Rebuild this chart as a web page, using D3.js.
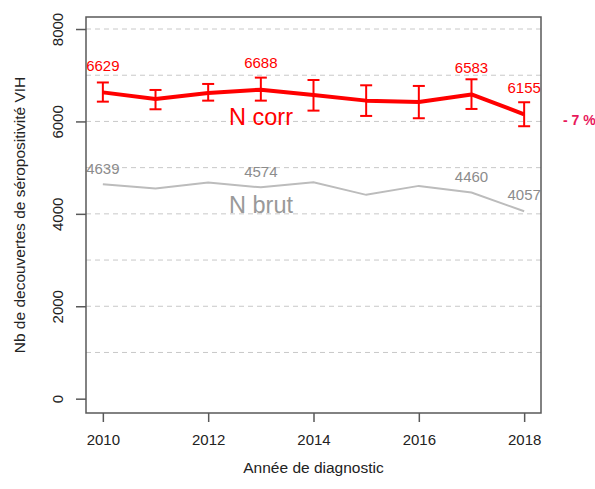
<!DOCTYPE html>
<html>
<head>
<meta charset="utf-8">
<script src="https://cdn.jsdelivr.net/npm/d3@7"></script>
<style>
  body { margin: 0; background: #fff; }
  svg { font-family: "Liberation Sans", Arial, sans-serif; }
</style>
</head>
<body>
<svg id="chart" width="595" height="489"></svg>
<script>
// data
const years = [2010, 2011, 2012, 2013, 2014, 2015, 2016, 2017, 2018]
const nCorr = [6629, 6486, 6616, 6688, 6573, 6450, 6421, 6583, 6155]
const ciLow = [6428, 6263, 6450, 6450, 6234, 6119, 6069, 6270, 5896]
const ciHigh = [6843, 6681, 6811, 6948, 6897, 6782, 6768, 6912, 6415]
const nBrut = [4639, 4547, 4677, 4574, 4685, 4411, 4605, 4460, 4057]
const labelYears = [2010, 2013, 2017, 2018]
const xTicks = [2010, 2012, 2014, 2016, 2018]
const yTicks = [0, 2000, 4000, 6000, 8000]
const gridVals = [1000, 2000, 3000, 4000, 5000, 6000, 7000, 8000]

let svg = d3.select("#chart")
let pLeft = 86, pRight = 541, pTop = 17, pBottom = 413

let xScale = d3.scaleLinear().domain([2009.68, 2018.32]).range([pLeft, pRight])
let yScale = d3.scaleLinear().domain([-310, 8260]).range([pBottom, pTop])

// grid
svg.selectAll(".grid")
    .data(gridVals)
    .enter()
    .append("line")
    .attr("x1", pLeft).attr("x2", pRight)
    .attr("y1", d => yScale(d)).attr("y2", d => yScale(d))
    .attr("stroke", "#c8c8c8")
    .attr("stroke-width", 1)
    .attr("stroke-dasharray", "5,4")

// gray labels
svg.selectAll(".lblBrut")
    .data(years.filter(y => labelYears.includes(y)))
    .enter()
    .append("text")
    .attr("x", d => xScale(d))
    .attr("y", d => yScale(nBrut[years.indexOf(d)]) - 16)
    .attr("dy", "0.35em")
    .attr("text-anchor", "middle")
    .attr("font-size", 15)
    .attr("fill", "#8c8c8c")
    .text(d => nBrut[years.indexOf(d)])

// N brut line
let line = d3.line().x((d, i) => xScale(years[i])).y(d => yScale(d))
svg.append("path")
    .attr("d", line(nBrut))
    .attr("fill", "none")
    .attr("stroke", "#bcbcbc")
    .attr("stroke-width", 2)

// error bars
let eb = svg.append("g").attr("stroke", "#ff0000").attr("stroke-width", 2)
years.forEach(function (yr, i) {
    let x = xScale(yr)
    eb.append("line").attr("x1", x).attr("x2", x)
        .attr("y1", yScale(ciLow[i])).attr("y2", yScale(ciHigh[i]))
    eb.append("line").attr("x1", x - 6).attr("x2", x + 6)
        .attr("y1", yScale(ciLow[i])).attr("y2", yScale(ciLow[i]))
    eb.append("line").attr("x1", x - 6).attr("x2", x + 6)
        .attr("y1", yScale(ciHigh[i])).attr("y2", yScale(ciHigh[i]))
})

// N corr line
svg.append("path")
    .attr("d", line(nCorr))
    .attr("fill", "none")
    .attr("stroke", "#ff0000")
    .attr("stroke-width", 4)
    .attr("stroke-linejoin", "round")

// red labels
svg.selectAll(".lblCorr")
    .data(years.filter(y => labelYears.includes(y)))
    .enter()
    .append("text")
    .attr("x", d => xScale(d))
    .attr("y", d => yScale(nCorr[years.indexOf(d)]) - 27)
    .attr("dy", "0.35em")
    .attr("text-anchor", "middle")
    .attr("font-size", 15)
    .attr("fill", "#ff0000")
    .text(d => nCorr[years.indexOf(d)])

// series names
svg.append("text").attr("x", 229).attr("y", 117).attr("dy", "0.35em")
    .attr("font-size", 23.5).attr("fill", "#ff0000").text("N corr")
svg.append("text").attr("x", 229).attr("y", 205).attr("dy", "0.35em")
    .attr("font-size", 23.5).attr("fill", "#999999").text("N brut")

// variation
svg.append("text").attr("x", 563).attr("y", 120).attr("dy", "0.35em")
    .attr("font-size", 14).attr("font-weight", "bold").attr("fill", "#e8185c")
    .text("- 7 %")

// box
svg.append("rect")
    .attr("x", pLeft).attr("y", pTop)
    .attr("width", pRight - pLeft).attr("height", pBottom - pTop)
    .attr("fill", "none").attr("stroke", "#595959").attr("stroke-width", 1.5)

// x Axis
let x_axis = d3.axisBottom(xScale).tickValues(xTicks).tickFormat(d3.format("d"))
    .tickSize(9).tickPadding(12)
let gx = svg.append("g").attr("transform", `translate(0,${pBottom})`).call(x_axis)
gx.select(".domain").remove()

// y Axis
let y_axis = d3.axisLeft(yScale).tickValues(yTicks).tickFormat(d3.format("d"))
    .tickSize(10).tickPadding(8)
let gy = svg.append("g").attr("transform", `translate(${pLeft},0)`).call(y_axis)
gy.select(".domain").remove()
gy.selectAll(".tick text")
    .attr("transform", "rotate(-90)")
    .attr("x", 0).attr("y", -28).attr("dy", "0.35em")
    .attr("text-anchor", "middle")

;[gx, gy].forEach(function (g) {
    g.selectAll("line").attr("stroke", "#595959").attr("stroke-width", 1.5)
    g.selectAll("text").attr("font-size", 15).attr("fill", "#222")
        .attr("font-family", "Liberation Sans, Arial, sans-serif")
})

// Labels
svg.append("text")
    .attr("x", (pLeft + pRight) / 2).attr("y", 468).attr("dy", "0.35em")
    .attr("text-anchor", "middle").attr("font-size", 15.5).attr("fill", "#222")
    .text("Année de diagnostic")

svg.append("text")
    .attr("transform", `translate(20,${(pTop + pBottom) / 2}) rotate(-90)`)
    .attr("dy", "0.35em")
    .attr("text-anchor", "middle").attr("font-size", 15.5).attr("fill", "#222")
    .text("Nb de decouvertes de séropositivité VIH")
</script>
</body>
</html>
